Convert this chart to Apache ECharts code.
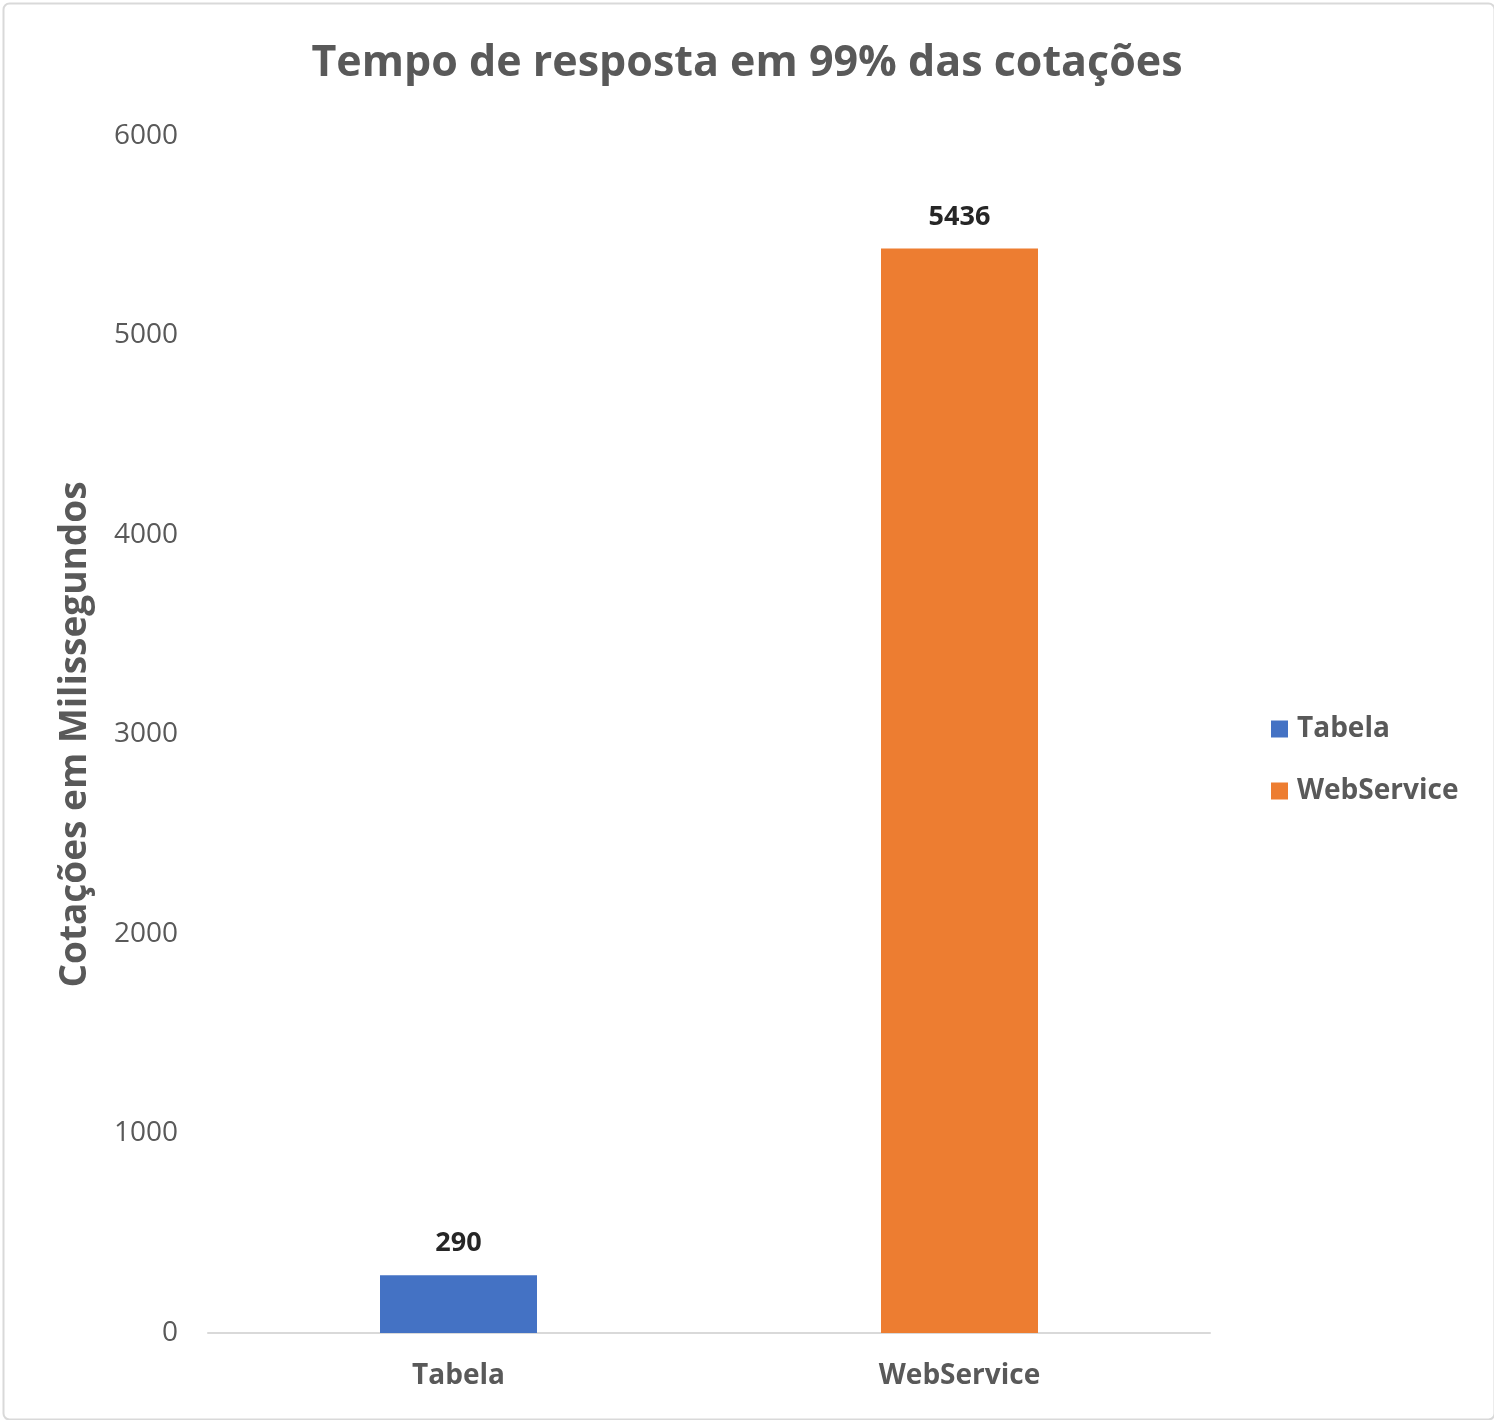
<!DOCTYPE html>
<html>
<head>
<meta charset="utf-8">
<script src="https://cdn.jsdelivr.net/npm/echarts@6/dist/echarts.min.js"></script>
<style>
  html, body { margin: 0; padding: 0; background: #fff; }
  #chart { width: 1494px; height: 1420px; }
</style>
</head>
<body>
<div id="chart"></div>
<script>
var categories = ['Tabela', 'WebService'];
var tabelaValues = [290, '-'];
var webServiceValues = ['-', 5436];
var yTicks = [0, 1000, 2000, 3000, 4000, 5000, 6000];

var chart = echarts.init(document.getElementById('chart'));

var font = '"Open Sans", "Noto Sans", sans-serif';

var option = {
    backgroundColor: '#ffffff',
    textStyle: { fontFamily: font },
    graphic: [{
        type: 'rect',
        left: 1, top: 1,
        shape: { width: 1491, height: 1416, r: 6 },
        style: { fill: 'none', stroke: '#d9d9d9', lineWidth: 2 },
        silent: true
    }],
    title: {
        text: 'Tempo de resposta em 99% das cotações',
        left: 'center',
        top: 37,
        textStyle: { fontFamily: font, fontSize: 43, fontWeight: 'bold', color: '#595959' }
    },
    legend: {
        orient: 'vertical',
        left: 1266,
        top: 710,
        itemWidth: 17,
        itemHeight: 17,
        itemGap: 34,
        icon: 'rect',
        data: ['Tabela', 'WebService'],
        textStyle: { fontFamily: font, fontSize: 28, fontWeight: 'bold', color: '#595959', padding: [0, 0, 0, 4] }
    },
    grid: { left: 208, right: 284, top: 136, bottom: 87 },
    xAxis: {
        type: 'category',
        data: categories,
        axisLine: { lineStyle: { color: '#d9d9d9', width: 2 } },
        axisTick: { show: false },
        axisLabel: { margin: 29, fontFamily: font, fontSize: 28, fontWeight: 'bold', color: '#595959' }
    },
    yAxis: {
        type: 'value',
        min: yTicks[0],
        max: yTicks[yTicks.length - 1],
        interval: 1000,
        name: 'Cotações em Milissegundos',
        nameLocation: 'middle',
        nameRotate: 90,
        nameGap: 114,
        nameTextStyle: { fontFamily: font, fontSize: 37, fontWeight: 'bold', color: '#595959' },
        axisLine: { show: false },
        axisTick: { show: false },
        splitLine: { show: false },
        axisLabel: {
            margin: 30, fontFamily: font, fontSize: 28, color: '#595959',
            formatter: function (v) { return String(v); }
        }
    },
    series: [{
        name: 'Tabela',
        type: 'bar',
        stack: 'one',
        barWidth: 157,
        data: tabelaValues,
        itemStyle: { color: '#4472c4' },
        label: { show: true, position: 'top', distance: 18, fontFamily: font, fontSize: 27, fontWeight: 'bold', color: '#262626' }
    }, {
        name: 'WebService',
        type: 'bar',
        stack: 'one',
        barWidth: 157,
        data: webServiceValues,
        itemStyle: { color: '#ed7d31' },
        label: { show: true, position: 'top', distance: 18, fontFamily: font, fontSize: 27, fontWeight: 'bold', color: '#262626' }
    }]
};

chart.setOption(option);
</script>
</body>
</html>
